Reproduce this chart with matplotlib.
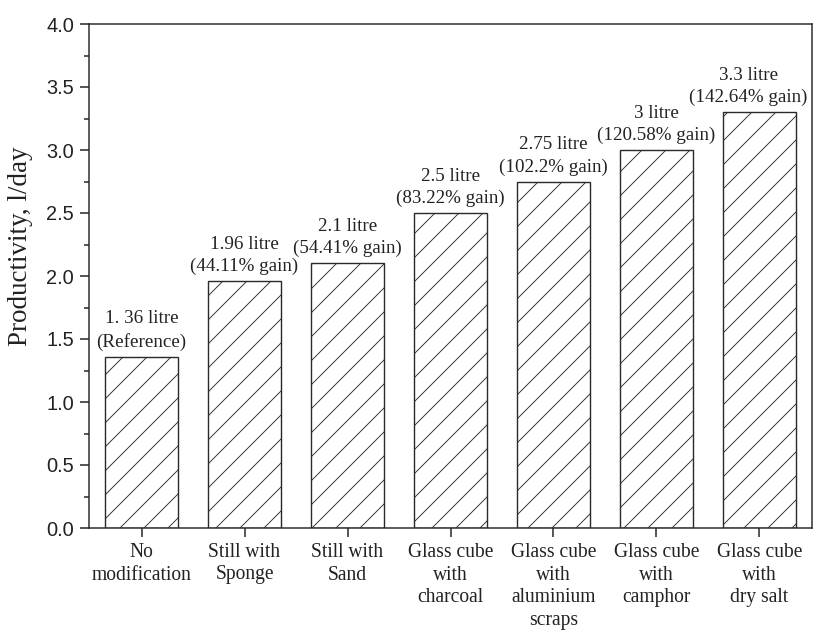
import matplotlib as mpl
import matplotlib.pyplot as plt
import numpy as np

DPI = 72  # 1 pt == 1 px, hatch '/' gives ~12 px spacing

mpl.rcParams.update({
    "font.family": "serif",
    "font.serif": ["Liberation Serif", "DejaVu Serif"],
    "hatch.linewidth": 0.9,
    "hatch.color": "#2a2a2a",
    "axes.linewidth": 1.5,
})

# ── Data ──────────────────────────────────────────────────
categories = ["No\nmodification", "Still with\nSponge", "Still with\nSand",
              "Glass cube\nwith\ncharcoal", "Glass cube\nwith\naluminium\nscraps",
              "Glass cube\nwith\ncamphor", "Glass cube\nwith\ndry salt"]
productivity = [1.36, 1.96, 2.1, 2.5, 2.75, 3.0, 3.3]
bar_labels = ["1. 36 litre\n(Reference)", "1.96 litre\n(44.11% gain)",
              "2.1 litre\n(54.41% gain)", "2.5 litre\n(83.22% gain)",
              "2.75 litre\n(102.2% gain)", "3 litre\n(120.58% gain)",
              "3.3 litre\n(142.64% gain)"]
yticks = [0.0, 0.5, 1.0, 1.5, 2.0, 2.5, 3.0, 3.5, 4.0]

# ── Figure ────────────────────────────────────────────────
fig = plt.figure(figsize=(822 / DPI, 630 / DPI), dpi=DPI, facecolor="white")
ax = fig.add_axes([89 / 822, 1 - 528 / 630, (812 - 89) / 822, (528 - 24) / 630])

x = np.arange(len(categories))
bars = ax.bar(x, productivity, width=0.7, facecolor="white", edgecolor="#2a2a2a",
              linewidth=1.4, hatch="/")

for i, (b, lab) in enumerate(zip(bars, bar_labels)):
    dx = -11 if i == len(bars) - 1 else 0   # last label nudged inside the frame
    ax.annotate(lab, (b.get_x() + b.get_width() / 2, b.get_height()),
                xytext=(dx, 6), textcoords="offset points",
                ha="center", va="bottom", fontsize=19, color="#222",
                linespacing=1.38)

ax.set_xlim(-0.51, 6.51)
ax.set_ylim(0, 4.0)
ax.set_yticks(yticks)
ax.set_yticklabels([f"{v:.1f}" for v in yticks], family="Liberation Sans", fontsize=20)
ax.set_yticks(np.arange(0.25, 4.0, 0.5), minor=True)
ax.set_xticks(x)
ax.set_xticklabels(categories, fontsize=19.5, linespacing=1.25)
ax.tick_params(axis="y", which="major", direction="out", length=9, width=1.5, colors="#222", pad=6)
ax.tick_params(axis="y", which="minor", direction="out", length=5, width=1.5, colors="#222")
ax.tick_params(axis="x", which="major", direction="out", length=9, width=1.5, colors="#222", pad=6)
ax.set_ylabel("Productivity, l/day", fontsize=27, color="#222")
ax.yaxis.set_label_coords(-0.078, 0.56)

for s in ax.spines.values():
    s.set_color("#2a2a2a")

fig.savefig("out.png", dpi=DPI, facecolor="white")
